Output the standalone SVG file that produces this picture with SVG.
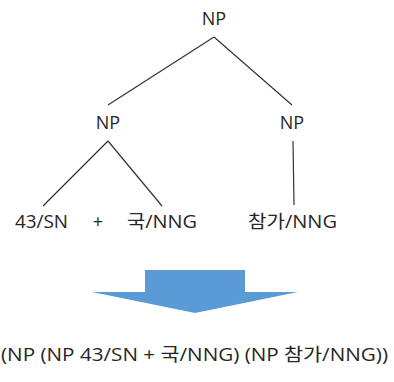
<svg xmlns="http://www.w3.org/2000/svg" width="394" height="382" viewBox="0 0 394 382">
  <style>
    text { font-family: "Open Sans", "Noto Sans CJK KR", sans-serif; font-size: 18px; fill: #262626; }
    .edge { stroke: #333333; stroke-width: 1.2; fill: none; }
  </style>
  <rect width="394" height="382" fill="#ffffff"/>
  <g id="connectors">
    <line class="edge" x1="214" y1="37" x2="108" y2="105"/>
    <line class="edge" x1="214" y1="37" x2="292" y2="105"/>
    <line class="edge" x1="108" y1="141" x2="43" y2="206"/>
    <line class="edge" x1="108" y1="141" x2="162" y2="206"/>
    <line class="edge" x1="293" y1="141" x2="294" y2="205"/>
  </g>
  <g id="np-root"><text x="214" y="25" text-anchor="middle">NP</text></g>
  <g id="np-left"><text x="108" y="129" text-anchor="middle">NP</text></g>
  <g id="np-right"><text x="292" y="129" text-anchor="middle">NP</text></g>
  <g id="leaf-43sn"><text x="15" y="228" textLength="53" lengthAdjust="spacingAndGlyphs">43/SN</text></g>
  <g id="plus"><text x="98" y="228" text-anchor="middle">+</text></g>
  <g id="leaf-guk"><text x="127" y="228" textLength="70" lengthAdjust="spacingAndGlyphs">국/NNG</text></g>
  <g id="leaf-chamga"><text x="248" y="228" textLength="89" lengthAdjust="spacingAndGlyphs">참가/NNG</text></g>
  <g id="arrow">
    <polygon points="145,270 245,270 245,292 298,292 195,313 92,292 145,292" fill="#5b9bd5"/>
  </g>
  <g id="bracketed"><text x="1" y="361" textLength="387" lengthAdjust="spacingAndGlyphs">(NP (NP 43/SN + 국/NNG) (NP 참가/NNG))</text></g>
</svg>
